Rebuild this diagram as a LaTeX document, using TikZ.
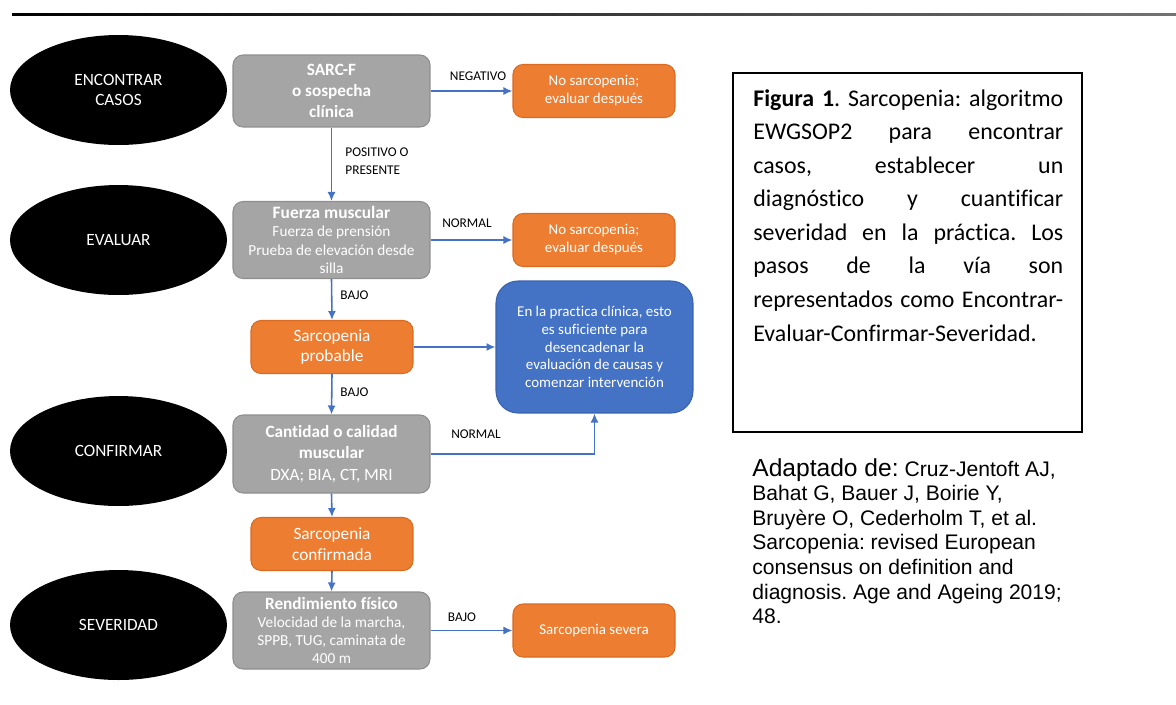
\documentclass[tikz,border=0pt]{standalone}
\usepackage{fontspec}
\setmainfont{Carlito}[Ligatures=NoCommon]
\newfontfamily\fuentearial{Liberation Sans}
\usetikzlibrary{arrows.meta,shapes.geometric}
\definecolor{grisfondo}{HTML}{A5A5A5}
\definecolor{grisborde}{HTML}{8E8E8E}
\definecolor{naranjafondo}{HTML}{ED7D31}
\definecolor{naranjaborde}{HTML}{D86A22}
\definecolor{azulfondo}{HTML}{4472C4}
\definecolor{azulborde}{HTML}{3A62AD}
\definecolor{flechaazul}{HTML}{4472C4}
\frenchspacing

\begin{document}
\begin{tikzpicture}[x=.02cm,y=-.02cm,>={Latex[length=1.8mm,width=1.6mm]},
fase/.style={ellipse,fill=black,text=white,inner sep=0pt,minimum width=4.34cm,minimum height=2.2cm,align=center,font=\fontsize{9.8}{11.4}\selectfont},
caja/.style={rounded corners=.2cm,text=white,align=center,inner sep=1pt,line width=.6pt},
gris/.style={caja,draw=grisborde,fill=grisfondo,minimum width=3.94cm,minimum height=1.54cm,font=\fontsize{8.7}{10.4}\selectfont},
naranja/.style={caja,draw=naranjaborde,fill=naranjafondo,minimum width=3.24cm,minimum height=1.06cm,font=\fontsize{8.5}{10.2}\selectfont},
etiq/.style={font=\fontsize{7.6}{10.2}\selectfont,align=left,inner sep=0pt},
flecha/.style={->,draw=flechaazul,line width=.9pt}]
\useasboundingbox (0,0) rectangle (1176,704);
\shade[left color=black,right color=black!55] (12,13) rectangle (1176,15.5);
\foreach \n/\y/\t in {encontrar/90/{ENCONTRAR\\CASOS},evaluar/240/EVALUAR,confirmar/451/CONFIRMAR,severidad/625/SEVERIDAD}
  \node[fase] (\n) at (118.5,\y) {\t};
\node[gris,minimum height=1.44cm,font=\fontsize{9.8}{12}\selectfont\bfseries] (sarc) at (331.5,91) {SARC-F\\o sospecha\\clínica};
\node[gris] (fuerza) at (331.5,240) {{\fontsize{9.9}{10.4}\selectfont\bfseries Fuerza muscular}\\Fuerza de prensión\\Prueba de elevación desde\\silla};
\node[gris,minimum height=1.56cm,font=\fontsize{9.8}{12}\selectfont] (cant) at (331.5,454) {\textbf{Cantidad o calidad}\\\textbf{muscular}\\DXA; BIA, CT, MRI};
\node[gris] (rend) at (331.5,630.5) {{\fontsize{9.8}{10.4}\selectfont\bfseries Rendimiento físico}\\Velocidad de la marcha,\\SPPB, TUG, caminata de\\400 m};
\node[naranja] (nosarcA) at (594,91) {No sarcopenia;\\evaluar después};
\node[naranja] (nosarcB) at (594,240) {No sarcopenia;\\evaluar después};
\node[naranja,font=\fontsize{9.8}{11.8}\selectfont] (prob) at (332,347) {Sarcopenia\\probable};
\node[naranja,font=\fontsize{9.8}{11.8}\selectfont] (conf) at (332,544) {Sarcopenia\\confirmada};
\node[naranja] (severa) at (594,630.5) {Sarcopenia severa};
\node[caja,rounded corners=.44cm,draw=azulborde,fill=azulfondo,minimum width=3.94cm,minimum height=2.64cm,font=\fontsize{8.5}{10.1}\selectfont] (practica) at (594.5,347) {En la practica clínica, esto\\es suficiente para\\desencadenar la\\evaluación de causas y\\comenzar intervención};
\foreach \a/\b in {sarc/fuerza,fuerza/prob,prob/cant,cant/conf,conf/rend}
  \draw[flecha] (\a.south)--(\b.north);
\draw[flecha] (sarc.east)--(nosarcA.west);\draw[flecha] (fuerza.east)--(nosarcB.west);
\draw[flecha] (prob.east)--(practica.west);\draw[flecha] (cant.east)-|(practica.south);
\draw[flecha] (rend.east)--(severa.west);
\node[etiq] (negativo) at (478,76) {NEGATIVO};
\node[etiq,anchor=west] (positivo) at (345,161) {POSITIVO O\\PRESENTE};
\node[etiq] (normalA) at (467,223) {NORMAL};
\node[etiq,anchor=west] (bajoA) at (340,295) {BAJO};
\node[etiq,anchor=west] (bajoB) at (340,392) {BAJO};
\node[etiq] (normalB) at (476,434) {NORMAL};
\node[etiq] (bajoC) at (462,617) {BAJO};
\draw[line width=.7pt] (733,73) rectangle (1082,432);
\node[anchor=north west,inner sep=0pt,text width=6.2cm,align=justify,font=\fontsize{13.6}{19.1}\selectfont] (leyenda) at (753,89) {\textbf{Figura 1}. Sarcopenia: algoritmo\linebreak EWGSOP2 para encontrar\linebreak casos, establecer un\linebreak diagnóstico y cuantificar\linebreak severidad en la práctica. Los\linebreak pasos de la vía son\linebreak representados como Encontrar-\linebreak Evaluar-Confirmar-Severidad.};
\node[anchor=north west,inner sep=0pt,align=left,font=\fuentearial\fontsize{12}{14}\selectfont] (cita) at (752,458) {{\fontsize{14}{14}\selectfont Adaptado de:} Cruz-Jentoft AJ,\\Bahat G, Bauer J, Boirie Y,\\Bruyère O, Cederholm T, et al.\\Sarcopenia: revised European\\consensus on definition and\\diagnosis. Age and Ageing 2019;\\48.};
\end{tikzpicture}
\end{document}
